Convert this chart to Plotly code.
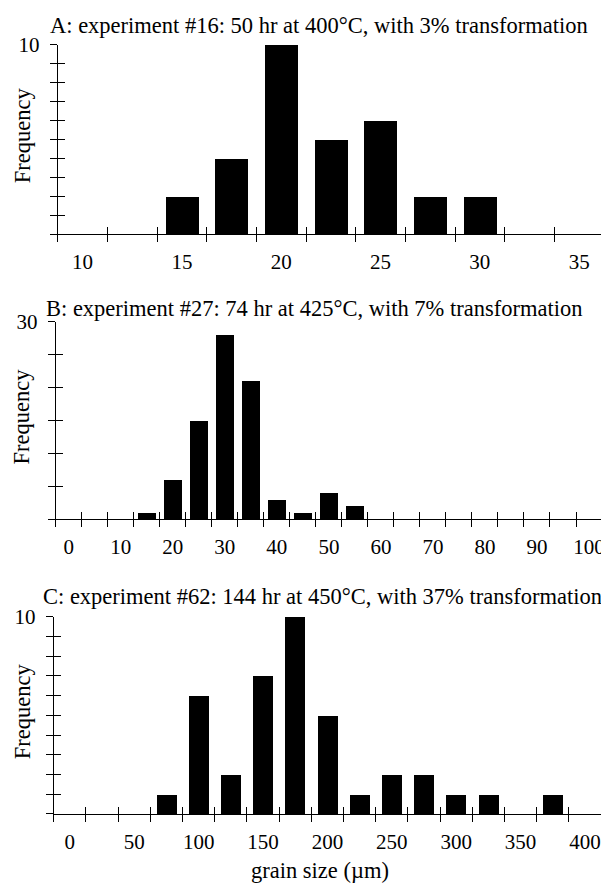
import numpy as np
import plotly.graph_objects as go

# ---- data ----
a_centers = [15, 17.5, 20, 22.5, 25, 27.5, 30]
a_freq = [2, 4, 10, 5, 6, 2, 2]
a_ticklabels = [10, 15, 20, 25, 30, 35]

b_centers = [15, 20, 25, 30, 35, 40, 45, 50, 55]
b_freq = [1, 6, 15, 28, 21, 3, 1, 4, 2]
b_ticklabels = [0, 10, 20, 30, 40, 50, 60, 70, 80, 90, 100]

c_centers = [75, 100, 125, 150, 175, 200, 225, 250, 275, 300, 325, 375]
c_freq = [1, 6, 2, 7, 10, 5, 1, 2, 2, 1, 1, 1]
c_ticklabels = [0, 50, 100, 150, 200, 250, 300, 350, 400]

titles = [
    "A: experiment #16: 50 hr at 400°C, with 3% transformation",
    "B: experiment #27: 74 hr at 425°C, with 7% transformation",
    "C: experiment #62: 144 hr at 450°C, with 37% transformation",
]

# page has an 8px body margin: figure is drawn at (8, 8)
OFF = 8
W, H = 609 - OFF, 884 - OFF
FONT = "Liberation Serif"
TXT = 22.5
TICK = 21


def fx(px):
    return (px - OFF) / W


def fy(py):
    return 1 - (py - OFF) / H


panels = [
    dict(centers=a_centers, freq=a_freq, labels=a_ticklabels, binw=2.5, lo=8.75, hi=36.25,
         ymax=10, ystep=1, bw=0.66, xpx=(58, 607), ypx=(33, 225), tpos=(48, 14)),
    dict(centers=b_centers, freq=b_freq, labels=b_ticklabels, binw=5, lo=-2.5, hi=102.5,
         ymax=30, ystep=5, bw=0.67, xpx=(56, 605), ypx=(314, 514), tpos=(44, 301)),
    dict(centers=c_centers, freq=c_freq, labels=c_ticklabels, binw=25, lo=-12.5, hi=412.5,
         ymax=10, ystep=1, bw=0.62, xpx=(54, 604), ypx=(613, 813), tpos=(41, 592)),
]

fig = go.Figure()
layout = {}
annotations = []
axfont = dict(family=FONT, size=TICK, color="black")

for i, p in enumerate(panels):
    k = i + 1
    ko = i + 4
    xs = "" if k == 1 else str(k)
    xo = str(ko)
    xdom = [fx(p["xpx"][0]), fx(p["xpx"][1])]
    ydom = [fy(p["ypx"][1]), fy(p["ypx"][0])]
    edges = list(np.arange(p["lo"], p["hi"] + p["binw"] / 2, p["binw"]))
    yt = list(np.arange(0, p["ymax"] + p["ystep"] / 2, p["ystep"]))

    fig.add_trace(go.Bar(x=p["centers"], y=p["freq"], width=p["binw"] * p["bw"],
                         marker=dict(color="black", line=dict(width=0)),
                         xaxis="x" + xs, yaxis="y" + xs, showlegend=False))
    fig.add_trace(go.Scatter(x=[], y=[], xaxis="x" + xo, yaxis="y" + xo,
                             showlegend=False, hoverinfo="skip"))

    layout["xaxis" + xs] = dict(
        domain=xdom, range=[p["lo"], p["hi"]], anchor="y" + xs,
        showline=True, linecolor="black", linewidth=1, showgrid=False, zeroline=False,
        tickmode="array", tickvals=p["labels"], ticktext=[str(v) for v in p["labels"]],
        ticks="", tickfont=axfont, ticklabelstandoff=9,
        minor=dict(tickmode="array", tickvals=edges, ticks="outside", ticklen=7,
                   tickcolor="black", tickwidth=1, showgrid=False),
    )
    layout["yaxis" + xs] = dict(
        domain=ydom, range=[0, p["ymax"]], anchor="x" + xs,
        showline=True, linecolor="black", linewidth=1, showgrid=False, zeroline=False,
        tickmode="array", tickvals=[p["ymax"]], ticktext=[str(p["ymax"])],
        ticks="outside", ticklen=7, tickcolor="black", tickwidth=1,
        tickfont=axfont, ticklabelstandoff=6,
        minor=dict(tickmode="array", tickvals=yt, ticks="outside", ticklen=7,
                   tickcolor="black", tickwidth=1, showgrid=False),
    )
    layout["xaxis" + xo] = dict(
        overlaying="x" + xs, anchor="y" + xo, range=[p["lo"], p["hi"]],
        showline=False, showgrid=False, zeroline=False, showticklabels=False,
        tickmode="array", tickvals=edges, ticks="inside", ticklen=7,
        tickcolor="black", tickwidth=1,
    )
    layout["yaxis" + xo] = dict(
        overlaying="y" + xs, anchor="x" + xo, range=[0, p["ymax"]],
        showline=False, showgrid=False, zeroline=False, showticklabels=False,
        tickmode="array", tickvals=yt, ticks="inside", ticklen=7,
        tickcolor="black", tickwidth=1,
    )
    annotations.append(dict(text=titles[i], xref="paper", yref="paper",
                            x=fx(p["tpos"][0]), y=fy(p["tpos"][1]),
                            xanchor="left", yanchor="middle", showarrow=False,
                            font=dict(family=FONT, size=TXT, color="black")))
    annotations.append(dict(text="Frequency", xref="paper", yref="paper",
                            x=fx(22), y=fy((p["ypx"][0] + p["ypx"][1]) / 2 - 4),
                            xanchor="center", yanchor="middle", textangle=-90,
                            showarrow=False,
                            font=dict(family=FONT, size=TXT, color="black")))

annotations.append(dict(text="grain size (µm)", xref="paper", yref="paper",
                        x=fx(322), y=fy(870), xanchor="center", yanchor="middle",
                        showarrow=False, font=dict(family=FONT, size=TXT, color="black")))

fig.update_layout(
    width=W, height=H, margin=dict(l=0, r=0, t=0, b=0),
    paper_bgcolor="white", plot_bgcolor="white",
    bargap=0, annotations=annotations, **layout,
)

fig.write_html("out.html")
